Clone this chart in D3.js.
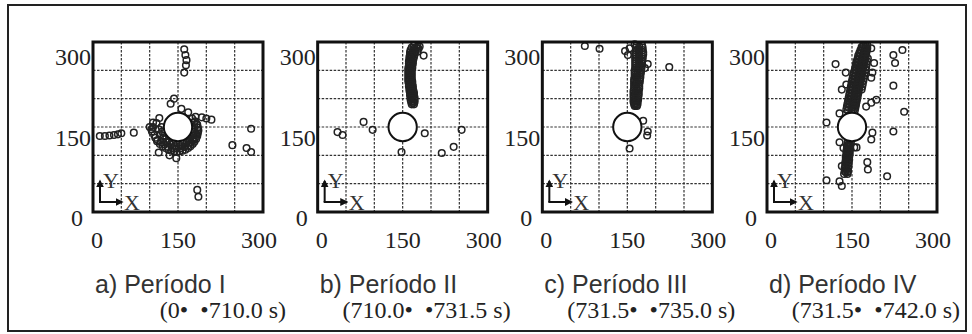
<!DOCTYPE html>
<html>
<head>
<meta charset="utf-8">
<script src="https://cdn.jsdelivr.net/npm/d3@7"></script>
<style>
  body { margin: 0; background: #fff; }
  svg { display: block; }
</style>
</head>
<body>
<div id="chart"></div>
<script>
// ---- data ----
var tickValues = [0, 150, 300];
var gridValues = [50, 100, 150, 200, 250];
var titles = ['a) Período I', 'b) Período II', 'c) Período III', 'd) Período IV'];
var subtitles = ['(0•\u00a0\u00a0•710.0 s)', '(710.0•\u00a0\u00a0•731.5 s)', '(731.5•\u00a0\u00a0•735.0 s)', '(731.5•\u00a0\u00a0•742.0 s)'];
var obstacle = [150, 150, 25]; // x, y, radius

var pointsA = [
  [161,287],[163,277],[165,268],[164,259],[161,246],
  [12,134],[21,134],[29,135],[37,136],[44,137],[50,139],[72,140],
  [137,191],[143,200],[156,182],[168,176],[181,168],[192,167],[200,165],[209,163],
  [117,166],[112,157],[103,146],[108,136],[114,127],[100,150],[106,158],
  [118,120],[123,116],[128,113],[133,110],[138,108],[143,107],[148,106],[153,107],
  [158,108],[163,110],[168,113],[172,116],[176,120],[179,124],[182,129],[184,134],
  [185,139],[186,144],[185,149],[183,155],[180,160],
  [113,125],[120,123],[126,119],[132,115],[140,113],[147,112],[155,112],[162,115],
  [168,118],[173,122],[177,127],[180,132],[182,137],[104,142],[110,131],[106,150],
  [121,150],[122,142],[125,135],[129,129],[135,125],[142,122],[150,121],[158,122],
  [165,125],[171,129],[175,135],[178,142],[179,150],[178,158],[175,165],
  [116,146],[118,137],[123,130],[129,123],[137,119],[145,116],[154,116],[163,118],
  [170,123],[177,129],[181,137],[184,145],[184,154],
  [116,105],[135,100],[147,95],
  [184,39],[186,27],[246,118],[271,113],[279,106],[279,147]
];

var pointsB = [
  [166,290],[164,286],[163,282],[163,278],[162,274],[162,270],[161,266],[161,262],[161,258],
  [160,254],[160,250],[160,246],[160,242],[160,238],[160,234],[160,230],[161,226],[161,222],
  [162,218],[162,214],[163,210],[163,206],[164,202],[164,198],[165,194],[166,190],
  [174,290],[173,286],[172,282],[171,278],[170,274],[169,270],[168,266],[168,262],[167,258],
  [167,254],[166,250],[166,246],[166,242],[166,238],[166,234],[167,230],[167,226],[168,222],
  [168,218],[169,214],[170,210],[170,206],[171,202],[171,198],[171,194],[170,190],
  [170,288],[168,284],[167,280],[166,276],[165,272],[165,268],[164,264],[164,260],[163,256],
  [163,252],[163,248],[163,244],[163,240],[163,236],[163,232],[164,228],[164,224],[165,220],
  [165,216],[166,212],[166,208],[167,204],[167,200],[168,196],[168,192],
  [176,283],[187,276],[170,294],[178,288],[180,292],[176,292],
  [35,141],[44,136],[81,159],[97,145],[189,139],[148,106],[219,104],[240,115],[254,145]
];

var pointsC = [
  [75,293],[101,288],[146,284],[151,277],[154,289],[163,296],[186,261],[181,254],[224,256],
  [178,161],[186,142],[185,135],[154,112],
  [166,294],[165,290],[165,286],[164,282],[164,278],[164,274],[164,270],[164,266],[164,262],
  [164,258],[164,254],[163,250],[163,246],[163,242],[163,238],[162,234],[162,230],[162,226],
  [162,222],[162,218],[161,214],[161,210],[161,206],[161,202],[161,198],[161,194],[162,190],[163,187],
  [176,294],[177,290],[177,286],[178,282],[178,278],[177,274],[177,270],[176,266],[176,262],
  [175,258],[175,254],[174,250],[174,246],[173,242],[173,238],[172,234],[172,230],[171,226],
  [171,222],[171,218],[170,214],[170,210],[170,206],[169,202],[169,198],[168,194],[168,190],[167,187],
  [171,292],[171,284],[171,276],[171,268],[171,260],[170,252],
  [170,288],[170,280],[170,272],[170,264],[169,256],[168,248],[168,244],[167,240],[167,236],
  [167,232],[166,228],[166,224],[166,220],[166,216],[165,212],[165,208],[165,204],[165,200],
  [164,196],[164,192],[165,188]
];

var pointsD = [
  [170,294],[168,289],[166,284],[164,279],[163,274],[161,269],[160,264],[159,259],[158,254],
  [157,249],[156,244],[155,239],[154,234],[153,229],[152,224],[151,219],[150,214],[149,209],
  [148,204],[147,199],[146,194],[145,189],[144,184],[143,179],
  [174,294],[173,289],[171,284],[170,279],[168,274],[167,269],[166,264],[165,259],[164,254],
  [163,249],[162,244],[161,239],[160,234],[159,229],[158,224],[157,219],[156,214],[155,209],
  [154,204],[153,199],[152,194],[151,189],[150,184],[149,179],
  [177,294],[177,289],[176,284],[175,279],[174,274],[173,269],[172,264],[171,259],[170,254],
  [169,249],[168,244],[167,239],[166,234],[165,229],[164,224],[163,219],[162,214],[161,209],
  [160,204],[159,199],[158,194],[157,189],[156,184],[155,179],
  [167,291],[165,286],[163,281],[161,276],[160,271],[158,266],[157,261],[156,256],[155,251],
  [153,246],[152,241],[151,236],[150,231],[149,226],[148,221],[147,216],[146,211],[145,206],
  [144,201],[143,196],[142,191],[141,186],[140,181],
  [175,291],[174,286],[173,281],[172,276],[171,271],[170,266],[169,261],[168,256],[167,251],
  [166,246],[165,241],[164,236],[163,231],[162,226],[161,221],[160,216],[159,211],[158,206],
  [157,201],[156,196],[155,191],[154,186],[153,181],
  [178,271],[177,266],[176,261],[175,256],[174,251],[173,246],[172,241],[171,236],[170,231],
  [169,226],[168,221],[167,216],
  [142,122],[141,117],[141,112],[140,107],[140,102],[139,97],[139,92],[138,87],[138,82],
  [137,77],[137,72],[136,67],
  [148,122],[147,117],[147,112],[146,107],[146,102],[145,97],[145,92],[144,87],[144,82],
  [143,77],[143,72],[142,67],
  [144,120],[144,115],[143,110],[143,105],[142,100],[142,95],[141,90],[141,85],[140,80],
  [140,75],[139,70],
  [121,261],[139,246],[140,225],[132,216],[128,174],[105,158],[184,289],[189,263],[186,246],
  [184,237],[175,186],[184,193],[193,198],[223,277],[226,263],[239,286],[223,223],[242,177],
  [186,140],[184,128],[223,142],[154,114],[128,123],[135,113],[177,88],[178,75],[212,63],
  [105,56],[128,54],[132,46],[142,70],[132,81],[158,114],[146,123],[140,98]
];

var panelPoints = [pointsA, pointsB, pointsC, pointsD];

// ---- layout ----
var W = 972, H = 334;
var size = 170;
var panelTop = 42;
var panelLeft = d3.scaleLinear().domain([0, 3]).range([93, 767]);

var x = d3.scaleLinear().domain([0, 300]).range([0, size]);
var y = d3.scaleLinear().domain([0, 300]).range([size, 0]);
// tick labels sit a little inside / below the frame edges
var xLab = d3.scaleLinear().domain([0, 300]).range([4, size - 4]);
var yLab = d3.scaleLinear().domain([0, 300]).range([176, 15]);

var svg = d3.select('#chart').append('svg')
  .attr('width', W).attr('height', H)
  .attr('viewBox', `0 0 ${W} ${H}`);

svg.append('rect').attr('width', W).attr('height', H).attr('fill', '#fff');

// outer frame
svg.append('rect')
  .attr('x', 8).attr('y', 5).attr('width', 958).attr('height', 326)
  .attr('fill', 'none').attr('stroke', '#222').attr('stroke-width', 2);

var defs = svg.append('defs');
defs.append('marker')
  .attr('id', 'arr').attr('viewBox', '0 0 10 10')
  .attr('refX', 8).attr('refY', 5)
  .attr('markerWidth', 4).attr('markerHeight', 4)
  .attr('orient', 'auto')
  .append('path').attr('d', 'M0,0L10,5L0,10z').attr('fill', '#111');

titles.forEach(function(title, i) {
  var g = svg.append('g')
    .attr('transform', `translate(${panelLeft(i)},${panelTop})`);

  // dashed grid
  g.selectAll('line.gx').data(gridValues).enter().append('line')
    .attr('x1', d => x(d)).attr('x2', d => x(d))
    .attr('y1', 0).attr('y2', size)
    .attr('stroke', '#333').attr('stroke-width', 1.2)
    .attr('stroke-dasharray', '2.5,1.5');
  g.selectAll('line.gy').data(gridValues).enter().append('line')
    .attr('y1', d => y(d)).attr('y2', d => y(d))
    .attr('x1', 0).attr('x2', size)
    .attr('stroke', '#333').attr('stroke-width', 1.2)
    .attr('stroke-dasharray', '2.5,1.5');

  // points
  g.selectAll('circle.pt').data(panelPoints[i]).enter().append('circle')
    .attr('class', 'pt')
    .attr('cx', d => x(d[0])).attr('cy', d => y(d[1]))
    .attr('r', 3.3)
    .attr('fill', 'none').attr('stroke', '#222').attr('stroke-width', 1.5);

  // obstacle
  g.append('circle')
    .attr('cx', x(obstacle[0])).attr('cy', y(obstacle[1]))
    .attr('r', x(obstacle[2]))
    .attr('fill', '#fff').attr('stroke', '#111').attr('stroke-width', 2);

  // frame
  g.append('rect')
    .attr('width', size).attr('height', size)
    .attr('fill', 'none').attr('stroke', '#111').attr('stroke-width', 3);

  // XY indicator
  g.append('line').attr('x1', 7).attr('y1', 160).attr('x2', 7).attr('y2', 139)
    .attr('stroke', '#111').attr('stroke-width', 2).attr('marker-end', 'url(#arr)');
  g.append('line').attr('x1', 6).attr('y1', 160).attr('x2', 29).attr('y2', 160)
    .attr('stroke', '#111').attr('stroke-width', 2).attr('marker-end', 'url(#arr)');
  g.append('text').attr('x', 10).attr('y', 146).text('Y')
    .attr('font-family', 'Liberation Serif').attr('font-size', 22).attr('fill', '#333');
  g.append('text').attr('x', 31).attr('y', 168).text('X')
    .attr('font-family', 'Liberation Serif').attr('font-size', 22).attr('fill', '#333');

  // tick labels
  g.selectAll('text.xl').data(tickValues).enter().append('text')
    .attr('x', d => xLab(d)).attr('y', 206)
    .attr('text-anchor', 'middle')
    .attr('font-family', 'Liberation Serif').attr('font-size', 24).attr('fill', '#222')
    .text(d => d);
  g.selectAll('text.yl').data(tickValues).enter().append('text')
    .attr('x', d => d === 0 ? -10 : -2).attr('y', d => yLab(d) + 8)
    .attr('text-anchor', 'end')
    .attr('font-family', 'Liberation Serif').attr('font-size', 24).attr('fill', '#222')
    .text(d => d);

  // title
  g.append('text').attr('x', 2).attr('y', 251)
    .attr('font-family', 'Liberation Sans').attr('font-size', 25).attr('fill', '#333')
    .text(title);

  // time window
  g.append('text').attr('x', 193).attr('y', 276)
    .attr('text-anchor', 'end')
    .attr('font-family', 'Liberation Serif').attr('font-size', 24).attr('fill', '#222')
    .text(subtitles[i]);
});
</script>
</body>
</html>
